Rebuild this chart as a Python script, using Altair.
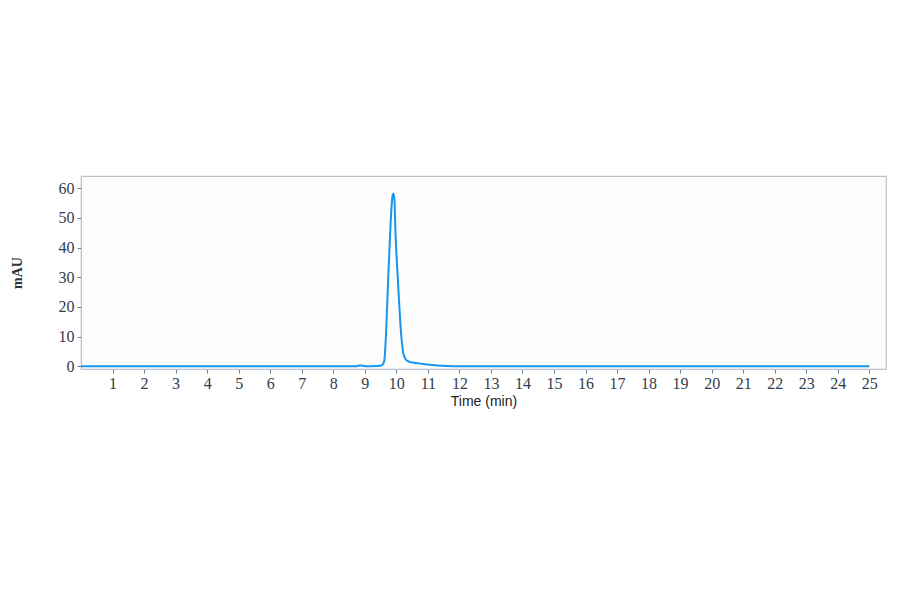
import altair as alt
import pandas as pd

time_min = [0, 8.70, 8.82, 8.90, 8.98, 9.10, 9.35, 9.52, 9.58, 9.62, 9.67, 9.74, 9.81, 9.85,
            9.88, 9.91, 9.94, 9.97, 10.05, 10.16, 10.22, 10.30, 10.40, 10.55, 10.70, 10.85,
            11.05, 11.30, 11.60, 12.00, 25.0]
mau = [0, 0, 0.25, 0.3, 0.1, 0, 0.1, 0.3, 0.8, 2, 10, 29, 46, 54,
       57.5, 58.2, 56, 46, 29, 10, 4.5, 2.3, 1.6, 1.2, 1.0, 0.8,
       0.5, 0.3, 0.15, 0.05, 0]

x_ticks = list(range(1, 26))
y_ticks = [0, 10, 20, 30, 40, 50, 60]

df = pd.DataFrame({"t": time_min, "v": mau})

chart = alt.Chart(df).mark_line(color="#1695f0", strokeWidth=2, clip=True,
                                interpolate="monotone").encode(
    x=alt.X("t:Q", title="Time (min)",
            scale=alt.Scale(domain=[0, 25.53], nice=False, zero=False),
            axis=alt.Axis(values=x_ticks, grid=False, tickSize=4, labelFont="Liberation Serif",
                          labelFontSize=16, labelColor="#333d4d", titleFont="Liberation Sans",
                          titleFontSize=14, titleColor="#222222", titleFontWeight="normal",
                          titlePadding=3, domainColor="#b7c2cf", tickColor="#6f7a88",
                          labelPadding=2, labelFlush=False)),
    y=alt.Y("v:Q", title="mAU",
            scale=alt.Scale(domain=[-0.9, 64.1], nice=False, zero=False),
            axis=alt.Axis(values=y_ticks, grid=False, tickSize=4, labelFont="Liberation Serif",
                          labelFontSize=16, labelColor="#333d4d", titleFont="Liberation Serif",
                          titleFontSize=14, titleColor="#333333", titleFontWeight="bold",
                          titlePadding=34, domainColor="#b7c2cf", tickColor="#6f7a88",
                          labelPadding=3)),
).properties(
    width=805,
    height=193,
    autosize=alt.AutoSizeParams(type="none"),
    padding={"left": 73, "top": 168, "right": 6, "bottom": 50},
    background="#ffffff",
).configure_view(
    stroke="#b7c2cf",
    strokeWidth=1.2,
    fill="#fdfdfd",
)

chart.save("out.html", embed_options={"renderer": "svg", "actions": False})
